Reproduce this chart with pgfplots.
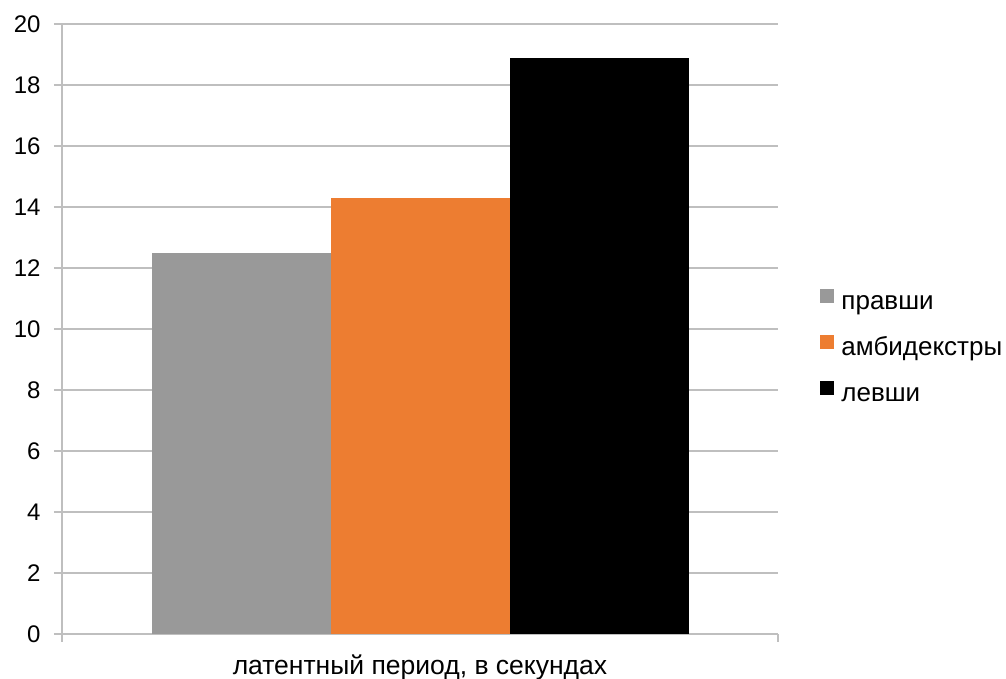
\documentclass[border=0pt]{standalone}
\usepackage{pgfplots}
\pgfplotsset{compat=1.18}
\usepackage{fontspec}
\setmainfont{Liberation Sans}
\definecolor{gridgray}{RGB}{191,191,191}
\definecolor{cgray}{RGB}{153,153,153}
\definecolor{corange}{RGB}{237,125,49}
\begin{document}
\begin{tikzpicture}[x=1pt,y=1pt]
\path[use as bounding box] (-62,-45) rectangle (944,634);
\begin{axis}[
  at={(0,0)}, anchor=south west,
  scale only axis, width=716pt, height=610pt,
  xmin=0, xmax=4, ymin=0, ymax=20,
  axis x line=bottom, axis y line=left,
  axis line style={draw=gridgray, line width=1.2pt, -},
  xtick={0,4}, xticklabels={},
  ytick={0,2,...,20},
  tick align=outside, major tick length=8pt,
  tick style={draw=gridgray, line width=1.2pt},
  ymajorgrids, grid style={draw=gridgray, line width=1.2pt},
  /pgf/number format/assume math mode=true,
  tick label style={font=\fontsize{24}{28}\selectfont},
  yticklabel style={xshift=-10pt},
  xlabel={латентный период, в секундах},
  xlabel style={font=\fontsize{26.5}{30}\selectfont, yshift=-2pt},
  legend style={draw=none, fill=none, at={(1.059,0.469)}, anchor=west,
    font=\fontsize{26}{30}\selectfont, inner sep=0pt,
    row sep=21pt,
    nodes={inner sep=0pt, text height=19pt, text depth=5pt}},
  legend cell align=left,
  legend image code/.code={\fill[#1,draw=none] (0pt,-1pt) rectangle (14pt,13pt);},
  clip=false,
]
\addplot[ybar, bar width=1, bar shift=0pt, fill=cgray, draw=none] coordinates {(1,12.5)};
\addlegendentry{\hspace*{7pt}правши}
\addplot[ybar, bar width=1, bar shift=0pt, fill=corange, draw=none] coordinates {(2,14.3)};
\addlegendentry{\hspace*{7pt}амбидекстры}
\addplot[ybar, bar width=1, bar shift=0pt, fill=black, draw=none] coordinates {(3,18.9)};
\addlegendentry{\hspace*{7pt}левши}
\end{axis}
\end{tikzpicture}
\end{document}
